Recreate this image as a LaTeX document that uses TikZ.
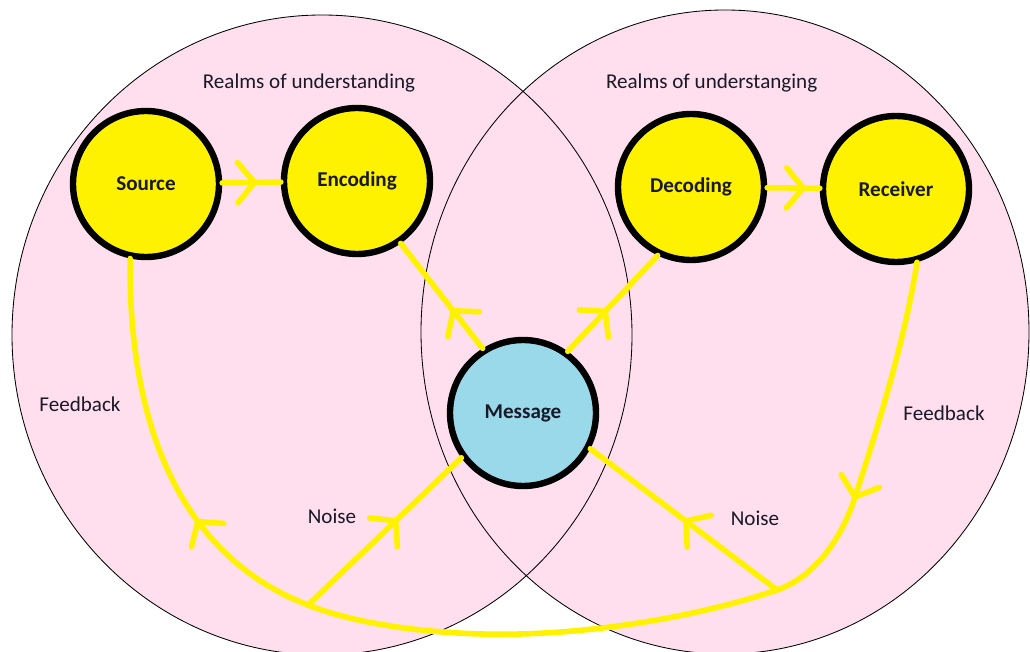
\documentclass[tikz,border=0pt]{standalone}
\usepackage{fontspec}
\setmainfont{Carlito}
\usepackage{tikz}
\usetikzlibrary{arrows.meta, positioning, decorations.markings}
\definecolor{mypink}{RGB}{255,223,237}
\definecolor{myyellow}{RGB}{255,242,0}
\definecolor{myblue}{RGB}{153,217,234}
\definecolor{mytext}{RGB}{25,25,40}
\tikzset{
  realm/.style={fill=mypink},
  realmline/.style={draw=black, line width=0.6pt},
  stage/.style={circle, draw=black, fill=myyellow, line width=0.16cm,
    minimum size=3.65cm, inner sep=0pt, text=mytext,
    font=\fontsize{15}{18}\selectfont\bfseries},
  msgstage/.style={stage, fill=myblue},
  txt/.style={text=mytext, font=\fontsize{15}{18}\selectfont},
  flow/.style={color=myyellow, line width=0.14cm, line cap=round},
  midarrow/.style={postaction={decorate}, decoration={markings,
    mark=at position #1 with {\arrow{Straight Barb[length=0.42cm, width=1.0cm, round]}}}}
}

\begin{document}
\begin{tikzpicture}
  \useasboundingbox (0,0) rectangle (25.75,16.275);
  \clip (0,0) rectangle (25.75,16.275);

  % Realms of understanding (two overlapping circles)
  \fill[realm] (8.05,7.9) ellipse [x radius=7.75, y radius=8.0];
  \fill[realm] (18.125,7.975) ellipse [x radius=7.6, y radius=8.05];
  \draw[realmline] (8.05,7.9) ellipse [x radius=7.75, y radius=8.0];
  \draw[realmline] (18.125,7.975) ellipse [x radius=7.6, y radius=8.05];

  \node[txt] (realmL) at (7.725,14.2) {Realms of understanding};
  \node[txt] (realmR) at (17.79,14.21) {Realms of understanging};

  % Stages
  \node[stage] (Source) at (3.65,11.675) {Source};
  \node[stage] (Encoding) at (8.925,11.75) {Encoding};
  \node[stage] (Decoding) at (17.275,11.6) {Decoding};
  \node[stage] (Receiver) at (22.4,11.55) {Receiver};
  \node[msgstage] (Message) at (13.075,5.95) {Message};

  % Points on the feedback line
  \coordinate (fbr) at (21.375,3.85);
  \coordinate (nr) at (19.425,1.525);
  \coordinate (fbmid) at (13.0,0.425);
  \coordinate (nl) at (7.7,1.15);

  % Main flow
  \draw[flow, midarrow=0.6] (Source) -- (Encoding);
  \draw[flow, midarrow=0.74] (Decoding) -- (Receiver);
  \draw[flow, midarrow=0.38] (Message.122) -- (Encoding.-55);
  \draw[flow, midarrow=0.44] (Message.54) -- (Decoding.-116);

  % Noise
  \draw[flow, midarrow=0.585] (nl) -- (Message.216);
  \draw[flow, midarrow=0.5] (nr) -- (Message.-28);
  \node[txt] (noiseL) at (8.3,3.36) {Noise};
  \node[txt] (noiseR) at (18.875,3.325) {Noise};

  % Feedback
  \draw[flow, midarrow=0.39] (Receiver.-74) .. controls (22.625,7.775) and (21.925,5.525) .. (fbr)
    .. controls (21.075,2.9) and (20.425,1.875) .. (nr)
    .. controls (17.425,0.85) and (15.0,0.475) .. (fbmid);
  \draw[flow, midarrow=0.567] (fbmid) .. controls (11.0,0.375) and (8.95,0.65) .. (nl)
    .. controls (4.75,2.275) and (3.2,5.275) .. (Source.-102);
  \node[txt] (fbL) at (2.0,6.16) {Feedback};
  \node[txt] (fbR) at (23.6,5.94) {Feedback};
\end{tikzpicture}
\end{document}
